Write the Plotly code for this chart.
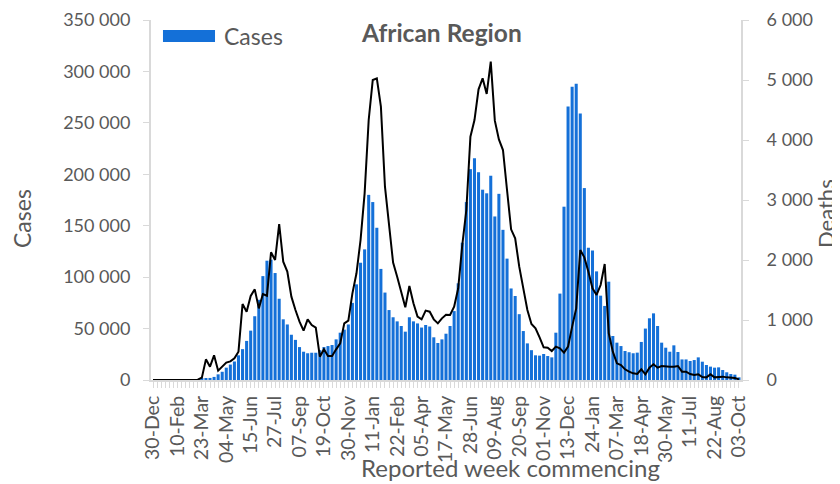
import pandas as pd
import plotly.graph_objects as go

# Weekly cases (thousands -> converted below)
cases_k = [
    0, 0, 0, 0, 0, 0, 0, 0, 0, 0, 0.1, 0.4, 1.0,
    1.6, 2, 3, 5.5, 8, 12, 15, 18, 24, 30, 38, 48, 62, 78, 101, 116, 117, 104,
    79, 59, 54, 44, 39, 32, 27.5, 26, 26.5, 26.5, 29, 32, 33, 34, 39.5, 46, 49, 54,
    75, 93, 114, 127, 180, 173, 148, 108, 85, 68, 61, 57, 52.5, 47, 61, 57, 55, 51,
    53.5, 52, 41.5, 36, 39.5, 45, 52.5, 67, 94, 133.5, 173, 205, 215.5, 202, 185,
    181.5, 198.6, 159, 181, 146, 118, 89, 81.7, 64, 47.6, 35.6, 29, 24, 23.7, 25.3,
    23.3, 22, 46, 84, 168.5, 266, 285, 288, 259, 186.6, 128.6, 126, 105.6, 82, 72,
    95.6, 42.8, 36.3, 33, 28.2, 27, 26, 26.6, 37, 50, 60, 64.8, 52.5, 36.3, 31.4,
    27.5, 33.7, 27.2, 20, 20, 18.5, 19.4, 22, 17.8, 14.6, 13, 12, 12.3, 9.7, 7.5,
    5.8, 5.2, 2.6,
]
cases = [v * 1000 for v in cases_k]

deaths = [
    0, 0, 0, 0, 0, 0, 0, 0, 0, 0, 0, 5, 40,
    344, 222, 411, 155, 222, 289, 311, 361, 472, 1267, 1139, 1400, 1511, 1194, 1433,
    1405, 2128, 2000, 2600, 1972, 1806, 1389, 1167, 972, 822, 1011, 917, 872, 389,
    511, 400, 400, 511, 611, 944, 989, 1444, 1778, 2333, 3111, 4333, 5000, 5028,
    4556, 3222, 2556, 1956, 1722, 1444, 1211, 1567, 1278, 1056, 1011, 1156, 1139,
    1011, 944, 1028, 1089, 1083, 1222, 1528, 2250, 2833, 4056, 4333, 4844, 5028,
    4767, 5306, 4322, 4011, 3833, 3167, 2511, 2361, 1889, 1528, 1167, 933, 861, 711,
    544, 539, 483, 556, 528, 456, 556, 889, 1194, 2167, 2044, 1806, 1528, 1417,
    1583, 1933, 778, 472, 278, 250, 178, 139, 111, 100, 178, 94, 205, 261, 205, 233,
    222, 222, 222, 233, 139, 139, 100, 83, 94, 50, 44, 94, 44, 56, 56, 44, 39, 33, 11,
]

weeks = pd.date_range("2019-12-30", periods=len(cases), freq="7D")

tick_labels = [
    "30-Dec", "10-Feb", "23-Mar", "04-May", "15-Jun", "27-Jul", "07-Sep", "19-Oct",
    "30-Nov", "11-Jan", "22-Feb", "05-Apr", "17-May", "28-Jun", "09-Aug", "20-Sep",
    "01-Nov", "13-Dec", "24-Jan", "07-Mar", "18-Apr", "30-May", "11-Jul", "22-Aug",
    "03-Oct",
]
tick_dates = list(weeks[::6][:len(tick_labels)])

cases_ticks = [0, 50000, 100000, 150000, 200000, 250000, 300000, 350000]
deaths_ticks = [0, 1000, 2000, 3000, 4000, 5000, 6000]

FONT = "Lato"
GREY = "#595959"
AXIS = "#d9d9d9"
BLUE = "#1470d8"

fig = go.Figure()
fig.add_trace(go.Bar(
    x=weeks, y=cases, name="Cases",
    marker=dict(color=BLUE, line=dict(width=0)),
    yaxis="y", showlegend=False,
))
fig.add_trace(go.Scatter(
    x=weeks, y=deaths, name="Deaths", mode="lines",
    line=dict(color="#000000", width=2),
    yaxis="y2", showlegend=False,
))

half_week = pd.Timedelta(days=3.5)
# page body adds an 8px offset, so the figure is 8px smaller than the window
fig.update_layout(
    width=832, height=476,
    margin=dict(l=143, r=99, t=12, b=104, autoexpand=False),
    paper_bgcolor="white", plot_bgcolor="white",
    separators=". ",
    font=dict(family=FONT, color=GREY, size=16),
    bargap=0.25,
    showlegend=False,
    xaxis=dict(
        type="date", automargin=False,
        range=[weeks[0] - half_week, weeks[-1] + half_week],
        tickvals=tick_dates, ticktext=tick_labels, tickangle=-90,
        ticks="outside", ticklen=6, tickcolor=AXIS,
        minor=dict(ticks="outside", ticklen=6, tickcolor=AXIS,
                   dtick=7 * 86400000, tick0="2019-12-30"),
        showline=True, linecolor=AXIS, linewidth=2,
        showgrid=False, tickfont=dict(size=19.5, color=GREY),
    ),
    yaxis=dict(
        range=[0, 350000], tickvals=cases_ticks, tickformat=",d",
        automargin=False,
        ticks="outside", ticklen=6, tickcolor=AXIS,
        showline=True, linecolor=AXIS, linewidth=2, showgrid=False,
        zeroline=False, tickfont=dict(size=18, color=GREY),
        ticklabelstandoff=9,
    ),
    yaxis2=dict(
        range=[0, 6000], tickvals=deaths_ticks, tickformat=",d",
        automargin=False,
        overlaying="y", side="right",
        ticks="outside", ticklen=6, tickcolor=AXIS,
        showline=True, linecolor=AXIS, linewidth=2, showgrid=False,
        zeroline=False, tickfont=dict(size=18, color=GREY),
        ticklabelstandoff=14,
    ),
    shapes=[dict(
        type="rect", xref="paper", yref="paper",
        x0=0.0203, x1=0.1085, y0=0.939, y1=0.972,
        fillcolor=BLUE, line=dict(width=0),
    )],
    annotations=[
        dict(text="Cases", xref="paper", yref="paper", x=0.1203, y=0.9556,
             xanchor="left", yanchor="middle", showarrow=False,
             font=dict(size=23, color=GREY, family=FONT)),
        dict(text="<b>African Region</b>", xref="paper", yref="paper",
             x=(441 - 151) / 590, y=(380 - 33) / 360,
             xanchor="center", yanchor="middle", showarrow=False,
             font=dict(size=24.5, color="#595959", family=FONT)),
        dict(text="Cases", xref="paper", yref="paper",
             x=(22 - 151) / 590, y=(380 - 219) / 360, textangle=-90,
             xanchor="center", yanchor="middle", showarrow=False,
             font=dict(size=23, color=GREY, family=FONT)),
        dict(text="Deaths", xref="paper", yref="paper",
             x=(825 - 151) / 590, y=(380 - 214) / 360, textangle=-90,
             xanchor="center", yanchor="middle", showarrow=False,
             font=dict(size=22, color=GREY, family=FONT)),
        dict(text="Reported week commencing", xref="paper", yref="paper",
             x=(510 - 151) / 590, y=(380 - 467) / 360,
             xanchor="center", yanchor="middle", showarrow=False,
             font=dict(size=24, color=GREY, family=FONT)),
    ],
)

fig.write_html("out.html")
